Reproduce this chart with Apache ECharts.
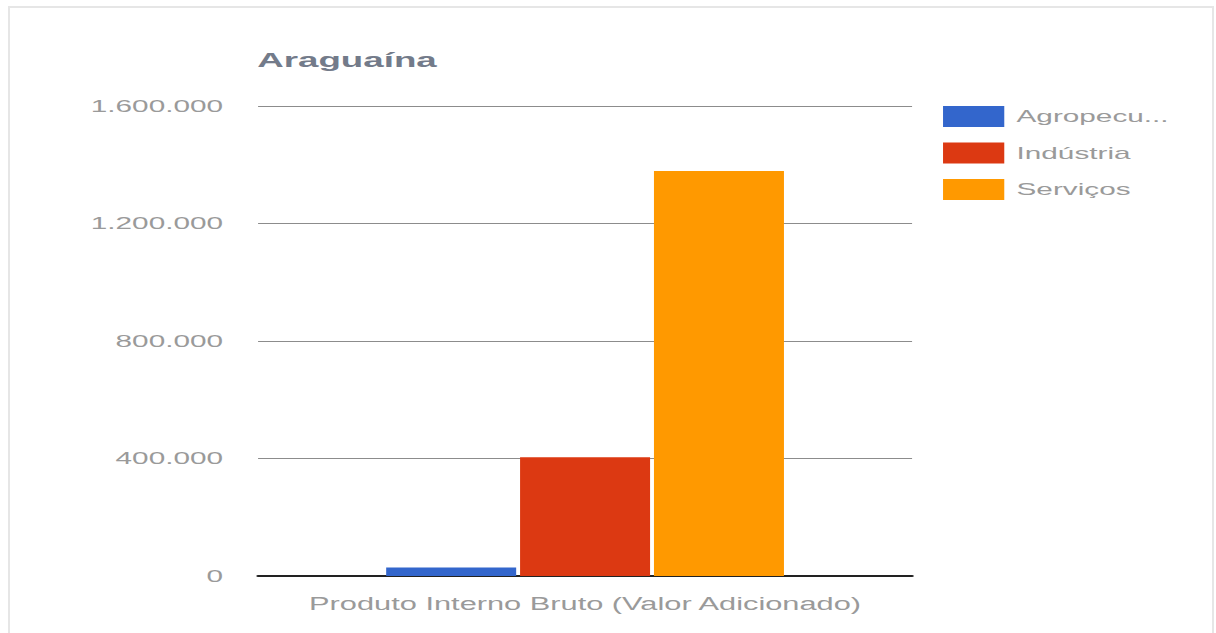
<!DOCTYPE html>
<html>
<head>
<meta charset="utf-8">
<script src="https://cdn.jsdelivr.net/npm/echarts@6/dist/echarts.min.js"></script>
<style>
  html, body { margin: 0; padding: 0; background: #fff; overflow: hidden; }
  #frame { position: absolute; left: 8px; top: 6px; width: 1206px; height: 640px;
           border: 2px solid #e6e6e6; box-sizing: border-box; }
  /* the original chart is stretched horizontally, so draw narrow and scale */
  #main { position: absolute; left: 0; top: 0; width: 695px; height: 633px;
          transform-origin: 0 0; transform: scaleX(1.7496); }
</style>
</head>
<body>
<div id="frame"></div>
<div id="main"></div>
<script>
// dados
var categories = ['Produto Interno Bruto (Valor Adicionado)'];
var seriesNames = ['Agropecuária', 'Indústria', 'Serviços'];
var agropecuaria = [29000];
var industria = [404000];
var servicos = [1379000];
var yTicks = [0, 400000, 800000, 1200000, 1600000];

var chart = echarts.init(document.getElementById('main'), null, { renderer: 'svg' });
var fonte = 'Liberation Sans, Arial, sans-serif';

function fmt(v) {
  return String(v).replace(/\B(?=(\d{3})+(?!\d))/g, '.');
}

var option = {
  animation: false,
  color: ['#3366cc', '#dc3912', '#ff9900'],
  title: {
    text: 'Araguaína',
    left: 142,
    top: 44,
    textStyle: { fontFamily: fonte, fontSize: 21, fontWeight: 'bold', color: '#737b8a' }
  },
  legend: {
    orient: 'vertical',
    left: 534,
    top: 101,
    itemWidth: 35,
    itemHeight: 21,
    itemGap: 15.5,
    icon: 'rect',
    data: seriesNames,
    formatter: function (name) {
      return name.length > 9 ? name.slice(0, 8) + '...' : name;
    },
    textStyle: { fontFamily: fonte, fontSize: 17, color: '#9a9a9a', padding: [0, 0, 0, 2] }
  },
  grid: { left: 147.5, right: 173.7, top: 106, bottom: 57, containLabel: false },
  xAxis: {
    type: 'category',
    data: categories,
    axisTick: { show: false },
    axisLine: { lineStyle: { color: '#222', width: 2 } },
    axisLabel: { fontFamily: fonte, fontSize: 17.6, color: '#9a9a9a', margin: 19 }
  },
  yAxis: {
    type: 'value',
    min: yTicks[0],
    max: yTicks[yTicks.length - 1],
    interval: yTicks[1] - yTicks[0],
    axisLine: { show: false },
    axisTick: { show: false },
    splitLine: { lineStyle: { color: '#8c8c8c', width: 1 } },
    axisLabel: {
      fontFamily: fonte, fontSize: 17, color: '#9a9a9a', margin: 20,
      formatter: fmt
    }
  },
  series: [
    { name: seriesNames[0], type: 'bar', barWidth: 74.3, barGap: '3%', data: agropecuaria },
    { name: seriesNames[1], type: 'bar', barWidth: 74.3, barGap: '3%', data: industria },
    { name: seriesNames[2], type: 'bar', barWidth: 74.3, barGap: '3%', data: servicos }
  ]
};
chart.setOption(option);
</script>
</body>
</html>
